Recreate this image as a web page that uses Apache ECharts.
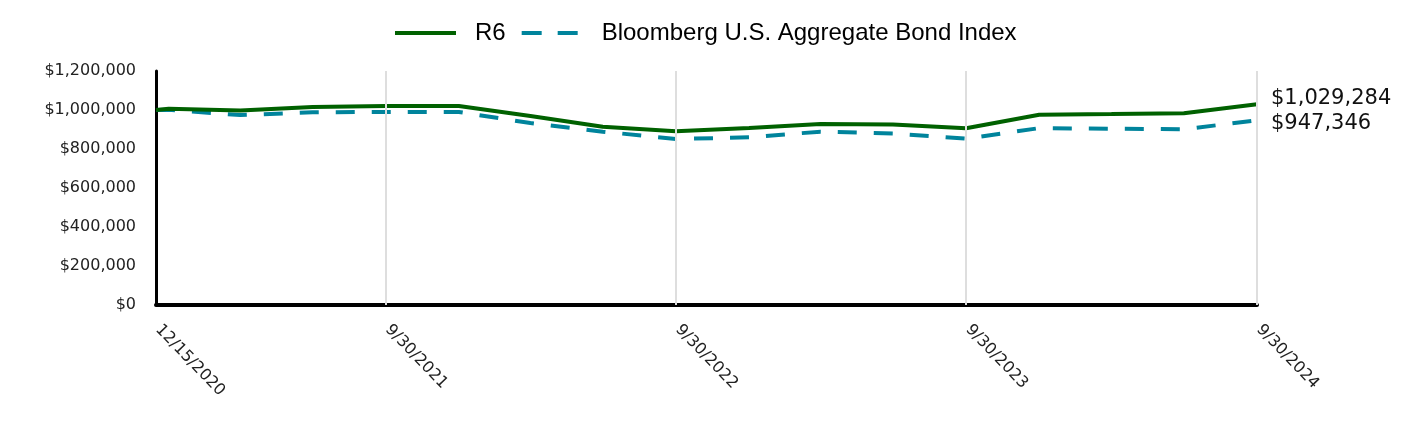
<!DOCTYPE html>
<html>
<head>
<meta charset="utf-8">
<script src="https://cdn.jsdelivr.net/npm/echarts@6/dist/echarts.min.js"></script>
<style>
  html, body { margin: 0; padding: 0; background: #ffffff; }
  #chart { width: 1428px; height: 444px; }
</style>
</head>
<body>
<div id="chart"></div>
<script>
// ---- data ----
const dates = ['2020-12-15','2020-12-31','2021-03-31','2021-06-30','2021-09-30','2021-12-31',
  '2022-03-31','2022-06-30','2022-09-30','2022-12-31','2023-03-31','2023-06-30',
  '2023-09-30','2023-12-31','2024-03-31','2024-06-30','2024-09-30'];
const r6Values = [1000000, 1006000, 998000, 1015000, 1020000, 1020000,
  969000, 914000, 891000, 908000, 928000, 926000,
  906000, 976000, 979000, 983000, 1029284];
const indexValues = [1000000, 1001000, 974000, 988000, 990000, 990000,
  933000, 889000, 851000, 860000, 889000, 879000,
  853000, 907000, 904000, 901000, 947346];
const tickDates = ['2020-12-15','2021-09-30','2022-09-30','2023-09-30','2024-09-30'];
const gridDates = ['2021-09-30','2022-09-30','2023-09-30','2024-09-30'];
const seriesNames = ['R6', 'Bloomberg U.S. Aggregate Bond Index'];
const yTicks = { min: 0, max: 1200000, interval: 200000 };

// ---- helpers ----
function ts(s) { const p = s.split('-'); return Date.UTC(+p[0], +p[1] - 1, +p[2]); }
function fmtDate(v) { const d = new Date(v); return (d.getUTCMonth() + 1) + '/' + d.getUTCDate() + '/' + d.getUTCFullYear(); }
function fmtMoney(v) { return '$' + Math.round(v).toLocaleString('en-US'); }
function pairs(vals) { return dates.map((d, i) => [ts(d), vals[i]]); }

const axisFont = 'DejaVu Sans';
const solidIcon = 'path://M0,0H61V4H0Z';
const dashIcon = 'path://M0,0H20V4H0Z M36,0H56V4H36Z M61,0L61,4L61,0Z';
const chart = echarts.init(document.getElementById('chart'), null, { renderer: 'canvas' });
chart.setOption({
  animation: false,
  backgroundColor: '#ffffff',
  legend: {
    left: 390, top: 16,
    itemWidth: 61, itemHeight: 4, itemGap: 16,
    data: [
      { name: seriesNames[0], icon: solidIcon },
      { name: seriesNames[1], icon: dashIcon }
    ],
    textStyle: { fontFamily: 'Liberation Sans', fontSize: 24, color: '#000', padding: [0, 0, 0, 14] }
  },
  grid: { left: 156, right: 171, top: 71, bottom: 139, containLabel: false },
  xAxis: {
    type: 'value',
    min: ts(dates[0]), max: ts(dates[dates.length - 1]),
    axisLine: { show: true, lineStyle: { color: '#000', width: 4 } },
    axisTick: { show: false },
    splitLine: { show: false },
    axisLabel: {
      customValues: tickDates.map(ts),
      formatter: v => fmtDate(v),
      rotate: -46, margin: 20,
      padding: [0, 0, 0, 3],
      fontFamily: axisFont, fontSize: 16, color: '#222'
    }
  },
  yAxis: {
    type: 'value', min: yTicks.min, max: yTicks.max, interval: yTicks.interval,
    axisLine: { show: true, lineStyle: { color: '#000', width: 3 } },
    axisTick: { show: false },
    splitLine: { show: false },
    axisLabel: { formatter: v => fmtMoney(v), margin: 20, padding: [4, 0, 0, 0], fontFamily: axisFont, fontSize: 16, color: '#222' }
  },
  series: [
    {
      name: 'grid', type: 'line', data: [], z: 1, silent: true,
      markLine: {
        silent: true, symbol: 'none', label: { show: false },
        lineStyle: { color: '#dedede', width: 2, type: 'solid' },
        data: gridDates.map(d => ({ xAxis: ts(d) }))
      }
    },
    {
      name: seriesNames[1], type: 'line', data: pairs(indexValues), z: 3,
      showSymbol: false, symbol: 'none',
      lineStyle: { color: '#00849c', width: 4, type: [19, 17] },
      itemStyle: { color: '#00849c' },
      endLabel: { show: true, formatter: p => fmtMoney(p.value[1]), fontFamily: axisFont, fontSize: 21, color: '#111', offset: [6, 3] }
    },
    {
      name: seriesNames[0], type: 'line', data: pairs(r6Values), z: 4,
      showSymbol: false, symbol: 'none',
      lineStyle: { color: '#006100', width: 4 },
      itemStyle: { color: '#006100' },
      endLabel: { show: true, formatter: p => fmtMoney(p.value[1]), fontFamily: axisFont, fontSize: 21, color: '#111', offset: [6, -6] }
    }
  ]
});
</script>
</body>
</html>
